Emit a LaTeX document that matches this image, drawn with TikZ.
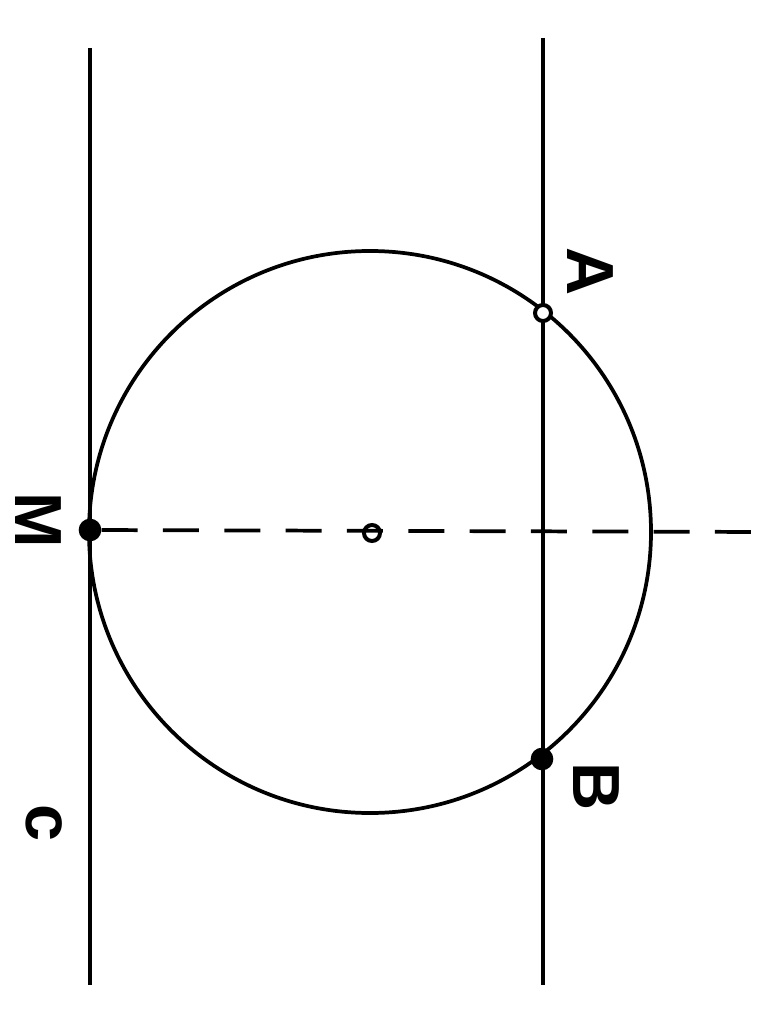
\documentclass[tikz,border=0pt]{standalone}
\usepackage{fontspec}
\setmainfont{Liberation Sans}
\begin{document}
\begin{tikzpicture}[x=0.75pt,y=-0.75pt,
  ln/.style={line width=2.8pt},
  dsh/.style={line width=2.8pt,dash pattern=on 27pt off 19pt},
  lbl/.style={font=\fontsize{50}{50}\selectfont\bfseries,rotate=-90,inner sep=0pt},
  fdot/.style={circle,fill=black,inner sep=0pt,minimum size=17pt},
  odot/.style={circle,draw=black,fill=white,line width=3pt,inner sep=0pt,minimum size=12pt}]
\useasboundingbox (0,0) rectangle (784,1009);
\coordinate (Ltop) at (90,48);
\coordinate (Lbot) at (90,985);
\coordinate (Rtop) at (543,38);
\coordinate (Rbot) at (543,985);
\coordinate (Dend) at (768,532);
\draw[ln] (Ltop) -- (Lbot);
\draw[ln] (Rtop) -- (Rbot);
\draw[ln] (370,532) circle (281);
\node[fdot] (M) at (90,530) {};
\node[odot] (O) at (372,533) {};
\node[fdot] (B) at (542,759) {};
\node[odot] (A) at (543,313) {};
\draw[dsh] (M) -- (Dend);
\node[lbl] (lA) at (590,272) {A};
\node[lbl] (lM) at (38,520) {M};
\node[lbl] (lB) at (596,787) {B};
\node[lbl] (lc) at (44,823) {c};
\end{tikzpicture}
\end{document}
